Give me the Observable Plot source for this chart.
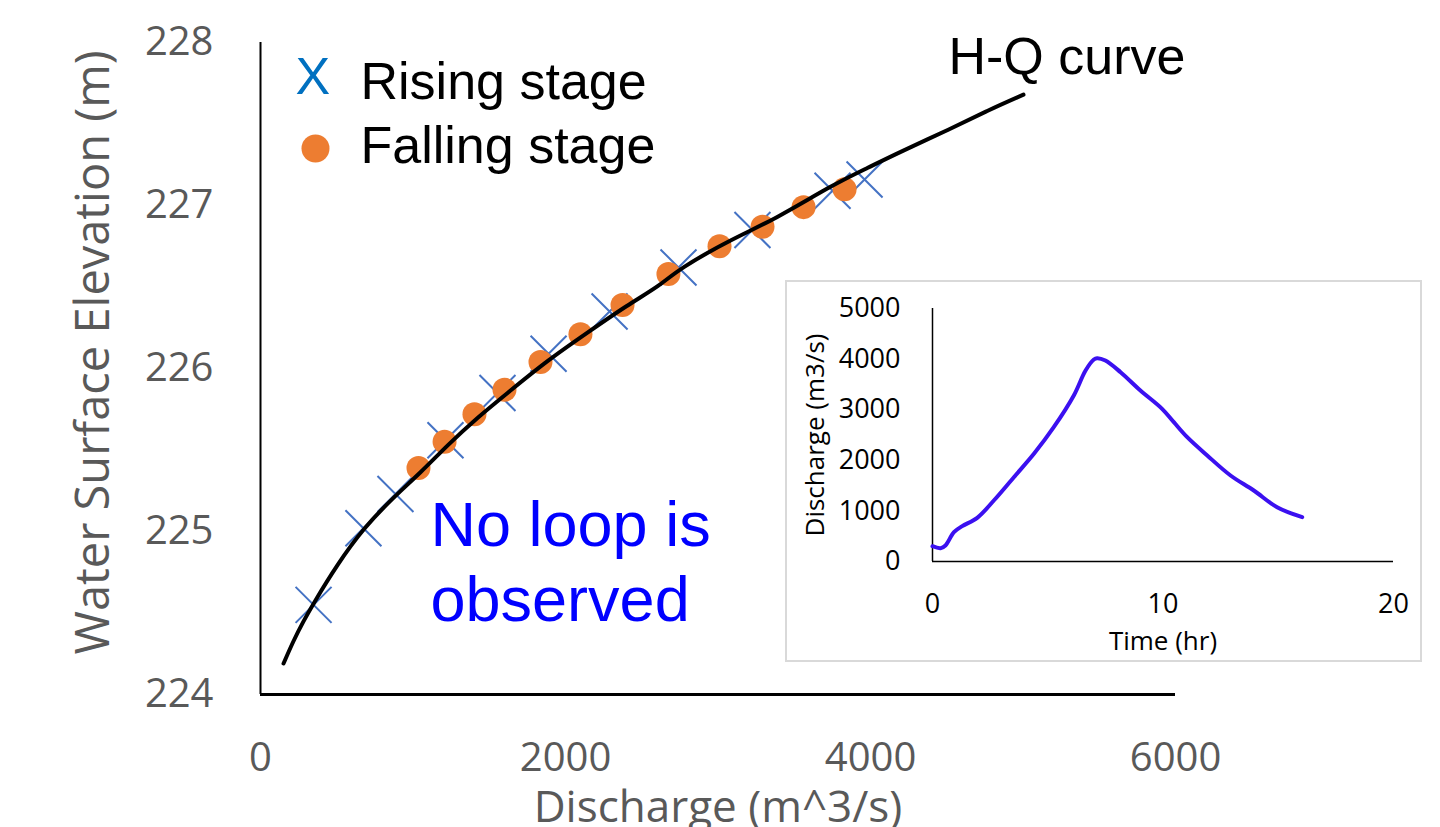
<!DOCTYPE html>
<html>
<head>
<meta charset="utf-8">
<script src="https://cdn.jsdelivr.net/npm/d3@7"></script>
<script src="https://cdn.jsdelivr.net/npm/@observablehq/plot@0.6"></script>
<style>
  html, body { margin: 0; padding: 0; background: #fff; }
  #wrap { position: relative; width: 1440px; height: 827px; overflow: hidden; }
  #main { position: absolute; left: 0; top: 0; }
  #inset { position: absolute; left: 785px; top: 280px; width: 637px; height: 382px;
           box-sizing: border-box; border: 2px solid #d9d9d9; background: #fff; }
</style>
</head>
<body>
<div id="wrap">
  <div id="main"></div>
  <div id="inset"></div>
</div>
<script>
// ---- Main chart data (H-Q rating) ----
const risingQ = [348, 675, 885, 1213, 1554, 1889, 2289, 2741, 3226, 3751, 3961];
const risingH = [224.55, 225.02, 225.23, 225.56, 225.85, 226.09, 226.35, 226.62, 226.85, 227.09, 227.16];
const fallingQ = [1036, 1207, 1403, 1600, 1836, 2098, 2374, 2675, 3010, 3292, 3561, 3830];
const fallingH = [225.39, 225.55, 225.72, 225.87, 226.04, 226.21, 226.39, 226.58, 226.75, 226.87, 226.99, 227.10];
const curveQ = [151, 216, 282, 348, 505, 675, 872, 1049, 1226, 1423, 1620, 1882, 2144, 2407, 2623, 2741, 3102, 3364, 3757, 3980, 4197, 4525, 4761, 5003];
const curveH = [224.19, 224.33, 224.45, 224.56, 224.80, 225.02, 225.21, 225.36, 225.53, 225.70, 225.85, 226.05, 226.22, 226.39, 226.51, 226.61, 226.80, 226.91, 227.13, 227.23, 227.33, 227.47, 227.58, 227.68];
const xTicksMain = [0, 2000, 4000, 6000];
const yTicksMain = [224, 225, 226, 227, 228];

// ---- Inset data (hydrograph) ----
const hydroT = [0, 0.35, 0.56, 0.93, 1.29, 1.94, 2.66, 3.53, 4.40, 5.26, 6.13, 6.64, 7.0, 7.14, 7.5, 8.16, 9.02, 9.96, 10.47, 11.05, 11.92, 12.93, 13.94, 14.95, 16.04];
const hydroQ = [302, 263, 316, 580, 698, 863, 1205, 1666, 2128, 2654, 3281, 3775, 3992, 4018, 3972, 3741, 3379, 3017, 2753, 2457, 2095, 1700, 1403, 1073, 876];
const xTicksInset = [0, 10, 20];
const yTicksInset = [0, 1000, 2000, 3000, 4000, 5000];

const rising = risingQ.map((q, i) => ({q, h: risingH[i]}));
const falling = fallingQ.map((q, i) => ({q, h: fallingH[i]}));
const curve = curveQ.map((q, i) => ({q, h: curveH[i]}));
const hydro = hydroT.map((t, i) => ({t, q: hydroQ[i]}));

const xSymbol = {
  draw(ctx, size) {
    const r = Math.sqrt(size / Math.PI);
    ctx.moveTo(-r, -r); ctx.lineTo(r, r);
    ctx.moveTo(r, -r); ctx.lineTo(-r, r);
  }
};

const ARIAL = "Liberation Sans, Arial, sans-serif";
const GRAY = "#595959";

const main = Plot.plot({
  width: 1440,
  height: 827,
  marginLeft: 260,
  marginRight: 265,
  marginTop: 42,
  marginBottom: 133,
  style: {background: "transparent", fontFamily: "Open Sans, sans-serif", overflow: "visible"},
  x: {domain: [0, 6000]},
  y: {domain: [224, 228]},
  marks: [
    Plot.axisX(xTicksMain, {tickSize: 0, tickPadding: 48, fontSize: 40, fill: GRAY, label: null, tickFormat: d => String(d)}),
    Plot.axisY(yTicksMain, {tickSize: 0, tickPadding: 47, fontSize: 40, fill: GRAY, label: null, tickFormat: d => String(d)}),
    Plot.ruleX([0], {stroke: "#000", strokeWidth: 2}),
    Plot.ruleY([224], {stroke: "#000", strokeWidth: 3}),
    Plot.dot(rising, {x: "q", y: "h", symbol: xSymbol, r: 18, stroke: "#4472C4", strokeWidth: 2, fill: "none"}),
    Plot.dot(falling, {x: "q", y: "h", r: 12, fill: "#ED7D31", stroke: "none"}),
    Plot.line(curve, {x: "q", y: "h", curve: "basis", stroke: "#000", strokeWidth: 4}),
    // axis titles
    Plot.text(["Discharge (m^3/s)"], {frameAnchor: "bottom", dy: 113, fontSize: 44, fill: GRAY, lineAnchor: "middle"}),
    Plot.text(["Water Surface Elevation (m)"], {frameAnchor: "left", rotate: -90, dx: -167, dy: -16, fontSize: 47, fill: GRAY, textAnchor: "middle", lineAnchor: "middle"}),
    // annotations
    Plot.text(["H-Q curve"], {frameAnchor: "top-left", dx: 688, dy: 31, fontSize: 52, fontFamily: ARIAL, fill: "#000", textAnchor: "start", lineAnchor: "bottom"}),
    Plot.text(["X"], {frameAnchor: "top-left", dx: 35, dy: 51, fontSize: 52, fontFamily: ARIAL, fill: "#0070C0", textAnchor: "start", lineAnchor: "bottom"}),
    Plot.text(["Rising stage"], {frameAnchor: "top-left", dx: 100, dy: 56, fontSize: 52, fontFamily: ARIAL, fill: "#000", textAnchor: "start", lineAnchor: "bottom"}),
    Plot.dot([0], {frameAnchor: "top-left", dx: 55, dy: 106, r: 14, fill: "#ED7D31", stroke: "none"}),
    Plot.text(["Falling stage"], {frameAnchor: "top-left", dx: 100, dy: 120, fontSize: 52, fontFamily: ARIAL, fill: "#000", textAnchor: "start", lineAnchor: "bottom"}),
    Plot.text(["No loop is"], {frameAnchor: "top-left", dx: 170, dy: 503, fontSize: 63, fontFamily: ARIAL, fill: "#0000FF", textAnchor: "start", lineAnchor: "bottom"}),
    Plot.text(["observed"], {frameAnchor: "top-left", dx: 170, dy: 578, fontSize: 63, fontFamily: ARIAL, fill: "#0000FF", textAnchor: "start", lineAnchor: "bottom"})
  ]
});
document.getElementById("main").appendChild(main);

const inset = Plot.plot({
  width: 633,
  height: 378,
  marginLeft: 145,
  marginRight: 27,
  marginTop: 26,
  marginBottom: 99,
  style: {background: "transparent", fontFamily: "Open Sans, sans-serif", overflow: "visible"},
  x: {domain: [0, 20]},
  y: {domain: [0, 5000]},
  marks: [
    Plot.axisX(xTicksInset, {tickSize: 0, tickPadding: 32, fontSize: 27, fill: "#000", label: null, tickFormat: d => String(d)}),
    Plot.axisY(yTicksInset, {tickSize: 0, tickPadding: 32, fontSize: 27, fill: "#000", label: null, tickFormat: d => String(d)}),
    Plot.ruleX([0], {stroke: "#000", strokeWidth: 1.5}),
    Plot.ruleY([0], {stroke: "#000", strokeWidth: 1.5}),
    Plot.line(hydro, {x: "t", y: "q", curve: "catmull-rom", stroke: "#3B10F0", strokeWidth: 4}),
    Plot.text(["Discharge (m3/s)"], {frameAnchor: "left", rotate: -90, dx: -117, dy: 0, fontSize: 26, fill: "#000", textAnchor: "middle", lineAnchor: "middle"}),
    Plot.text(["Time (hr)"], {frameAnchor: "bottom", dy: 80, fontSize: 26, fill: "#000", lineAnchor: "middle"})
  ]
});
document.getElementById("inset").appendChild(inset);
</script>
</body>
</html>
